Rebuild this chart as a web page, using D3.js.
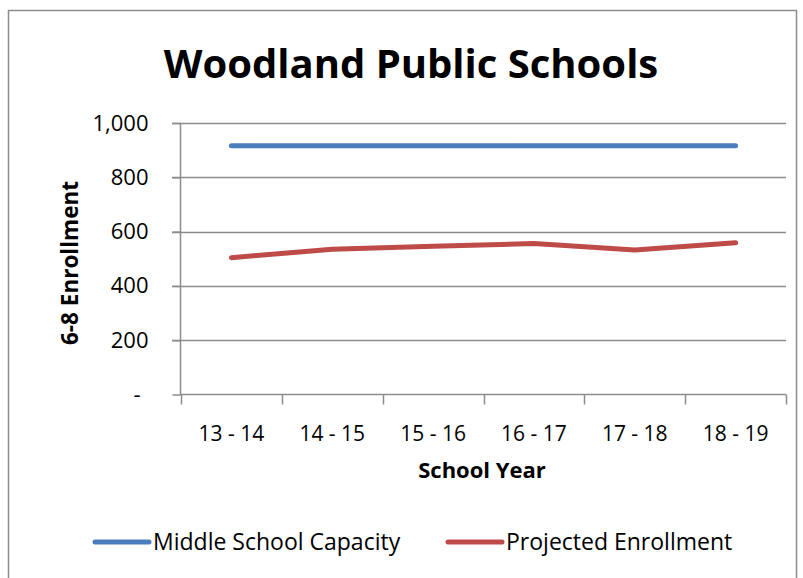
<!DOCTYPE html>
<html><head><meta charset="utf-8">
<script src="https://cdn.jsdelivr.net/npm/d3@7"></script>
<style>body{margin:0;background:#fff}svg{display:block}text{font-family:"Open Sans","Liberation Sans",sans-serif}</style>
</head><body><svg id="c" width="803" height="578"></svg>
<script>
const categories = ["13 - 14","14 - 15","15 - 16","16 - 17","17 - 18","18 - 19"];
const capacity = [916,916,916,916,916,916];
const enrollment = [504,535,546,556,532,559];
const yTicks = [0,200,400,600,800,1000];
const seriesNames = ["Middle School Capacity","Projected Enrollment"];
const colors = ["#4a7ebb","#be4b48"];

const svg = d3.select("#c");
svg.append("rect").attr("x",8.5).attr("y",10.5).attr("width",788).attr("height",600)
  .attr("fill","#fff").attr("stroke","#8c8c8c").attr("stroke-width",1.5);

const x = d3.scaleBand().domain(categories).range([181,786]);
const y = d3.scaleLinear().domain([0,1000]).range([394.5,123]);

// gridlines
svg.append("g").selectAll("line").data(yTicks.slice(1)).join("line")
  .attr("x1",172).attr("x2",786).attr("y1",d=>Math.round(y(d))+0.5).attr("y2",d=>Math.round(y(d))+0.5)
  .attr("stroke","#8c8c8c").attr("stroke-width",1.5);

// y axis
const yAxis = svg.append("g").attr("transform","translate(180.5,0)")
  .call(d3.axisLeft(y).tickValues(yTicks).tickSize(8).tickPadding(24)
    .tickFormat(d=>d===0?"-":d3.format(",")(d)));
yAxis.select(".domain").attr("stroke","#8c8c8c").attr("stroke-width",1.5).attr("d","M0,123V395");
yAxis.selectAll(".tick line").attr("stroke","#8c8c8c").attr("stroke-width",1.5);
yAxis.selectAll("text").attr("font-size",22).attr("fill","#000").attr("font-family","'Open Sans',sans-serif");
yAxis.selectAll(".tick").filter(d=>d===0).select("text").attr("dx",-8);

// x axis
const xAxis = svg.append("g").attr("transform","translate(0,394.5)");
xAxis.append("line").attr("x1",180).attr("x2",786).attr("stroke","#8c8c8c").attr("stroke-width",1.5);
const edges = categories.map(c=>x(c)).concat([x.range()[1]]);
xAxis.selectAll(".tk").data(edges).join("line").attr("class","tk")
  .attr("x1",d=>Math.round(d)+0.5).attr("x2",d=>Math.round(d)+0.5).attr("y1",0).attr("y2",10)
  .attr("stroke","#8c8c8c").attr("stroke-width",1.5);
xAxis.selectAll(".lb").data(categories).join("text").attr("class","lb")
  .attr("x",d=>x(d)+x.bandwidth()/2).attr("y",46).attr("text-anchor","middle")
  .attr("font-size",21).text(d=>d);

// lines
const line = d3.line().x((d,i)=>x(categories[i])+x.bandwidth()/2).y(d=>y(d));
[capacity,enrollment].forEach((s,i)=>{
  svg.append("path").datum(s).attr("d",line).attr("fill","none")
    .attr("stroke",colors[i]).attr("stroke-width",5).attr("stroke-linecap","round").attr("stroke-linejoin","round");
});

// title
svg.append("text").attr("x",411).attr("y",78).attr("text-anchor","middle")
  .attr("font-size",40).attr("font-weight","bold").text("Woodland Public Schools");
// axis titles
svg.append("text").attr("transform","translate(78,263) rotate(-90)").attr("text-anchor","middle")
  .attr("font-size",22.5).attr("font-weight","bold").text("6-8 Enrollment");
svg.append("text").attr("x",482).attr("y",478).attr("text-anchor","middle")
  .attr("font-size",22).attr("font-weight","bold").text("School Year");

// legend
const leg = [{x:95},{x:448}];
seriesNames.forEach((n,i)=>{
  const g = svg.append("g").attr("transform",`translate(${leg[i].x},542)`);
  g.append("line").attr("x1",0).attr("x2",54).attr("stroke",colors[i]).attr("stroke-width",5).attr("stroke-linecap","round");
  g.append("text").attr("x",58).attr("y",8).attr("font-size",23).text(n);
});
</script></body></html>
